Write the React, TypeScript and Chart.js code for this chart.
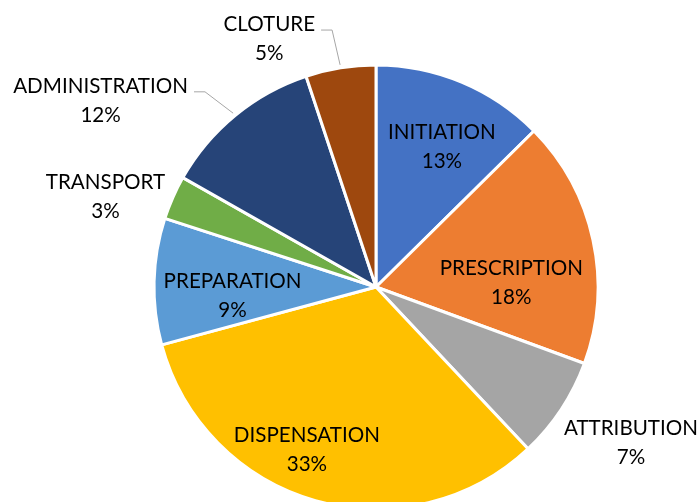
import { useEffect, useRef } from "react";
import { Chart, registerables } from "chart.js";

Chart.register(...registerables);

const categories = [
  "INITIATION",
  "PRESCRIPTION",
  "ATTRIBUTION",
  "DISPENSATION",
  "PREPARATION",
  "TRANSPORT",
  "ADMINISTRATION",
  "CLOTURE",
];
const shares = [12.6, 18.0, 7.4, 32.8, 9.2, 3.2, 11.7, 5.1];
const sliceColors = [
  "#4472C4",
  "#ED7D31",
  "#A5A5A5",
  "#FFC000",
  "#5B9BD5",
  "#70AD47",
  "#264478",
  "#9E480E",
];

// label placement: direction (deg clockwise from 12 o'clock) and distance as a fraction of the pie radius
const labelAngles = [25.1, 87.7, 121.3, 203.1, 266.8, 288.6, 304.2, 336.8];
const labelRadii = [0.7, 0.61, 1.344, 0.793, 0.647, 1.286, 1.5, 1.22];
const labelLeaders = [false, false, false, false, false, false, true, true];

const FONT = '20.6px Lato, "Open Sans", sans-serif';
const LINE_GAP = 29;

const labelPlugin = {
  id: "sliceLabels",
  afterDatasetsDraw(chart: any) {
    const ctx: CanvasRenderingContext2D = chart.ctx;
    const meta = chart.getDatasetMeta(0);
    const data = chart.data.datasets[0].data as number[];
    const total = data.reduce((a, b) => a + b, 0);
    ctx.save();
    ctx.font = FONT;
    ctx.textAlign = "center";
    ctx.textBaseline = "alphabetic";
    const capH = ctx.measureText("H").actualBoundingBoxAscent;
    meta.data.forEach((arc: any, i: number) => {
      const { x, y, outerRadius, startAngle, endAngle } = arc.getProps(
        ["x", "y", "outerRadius", "startAngle", "endAngle"],
        true
      );
      const a = (labelAngles[i] * Math.PI) / 180;
      const r = outerRadius * labelRadii[i];
      const cx = x + r * Math.sin(a);
      const cy = y - r * Math.cos(a);
      const l1 = cy - LINE_GAP / 2;
      const l2 = cy + LINE_GAP / 2;
      const name = String(chart.data.labels[i]);
      const pct = Math.round((data[i] / total) * 100) + "%";
      if (labelLeaders[i]) {
        const w = ctx.measureText(name).width;
        const sx = cx + w / 2 + 6;
        const sy = l1 + 6.5;
        const mid = (startAngle + endAngle) / 2;
        const ex = x + (outerRadius + 3) * Math.cos(mid);
        const ey = y + (outerRadius + 3) * Math.sin(mid);
        ctx.beginPath();
        ctx.moveTo(sx, sy);
        ctx.lineTo(sx + 11, sy);
        ctx.lineTo(ex, ey);
        ctx.strokeStyle = "#A6A6A6";
        ctx.lineWidth = 1;
        ctx.stroke();
      }
      ctx.fillStyle = "#000000";
      ctx.fillText(name, cx, l1 + capH / 2);
      ctx.fillText(pct, cx, l2 + capH / 2);
    });
    ctx.restore();
  },
};

export default function App() {
  const canvasRef = useRef<HTMLCanvasElement | null>(null);

  useEffect(() => {
    if (!canvasRef.current) return;
    const chart = new Chart(canvasRef.current, {
      type: "pie",
      data: {
        labels: categories,
        datasets: [
          {
            data: shares,
            backgroundColor: sliceColors,
            borderColor: "#FFFFFF",
            borderWidth: 3,
            hoverOffset: 0,
          },
        ],
      },
      options: {
        responsive: false,
        animation: false,
        devicePixelRatio: 1,
        layout: {
          padding: { left: 152.5, top: 63.5, right: 99.5, bottom: 19.5 },
        },
        plugins: {
          legend: { display: false },
          tooltip: { enabled: false },
        },
      },
      plugins: [labelPlugin],
    });
    return () => chart.destroy();
  }, []);

  return (
    <div
      style={{
        position: "fixed",
        left: 0,
        top: 0,
        width: 699,
        height: 502,
        overflow: "hidden",
        background: "#FFFFFF",
      }}
    >
      <canvas ref={canvasRef} width={699} height={530} style={{ display: "block" }} />
    </div>
  );
}
